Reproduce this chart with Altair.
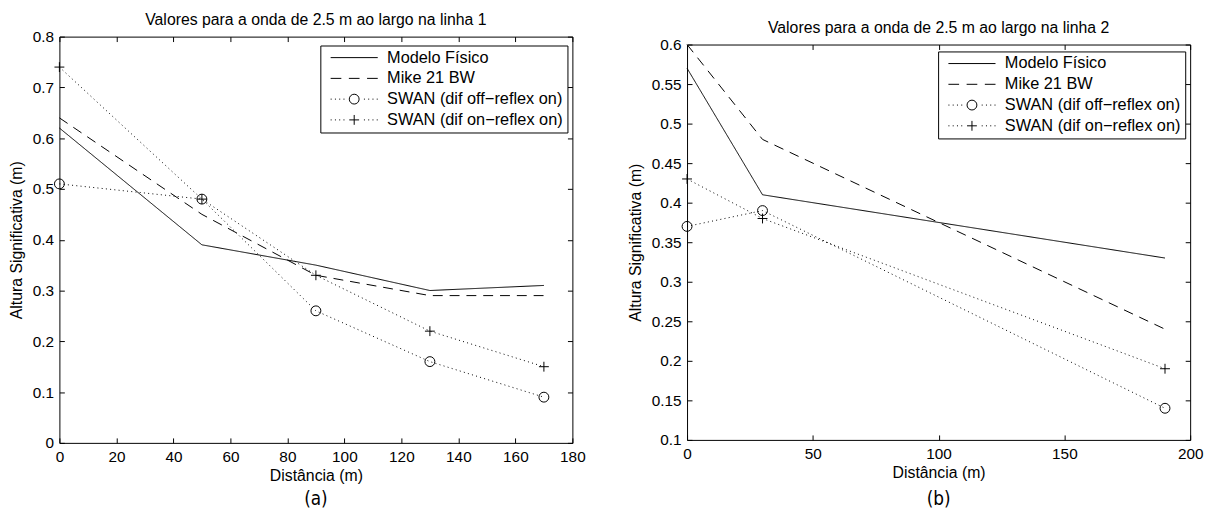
import altair as alt
import pandas as pd

SERIES = ["Modelo Físico", "Mike 21 BW",
          "SWAN (dif off\u2212reflex on)", "SWAN (dif on\u2212reflex on)"]

# ---- Painel (a): linha 1 ----
dist_a = [0, 50, 90, 130, 170]
modelo_a = [0.62, 0.39, 0.35, 0.30, 0.31]
mike_a = [0.64, 0.45, 0.33, 0.29, 0.29]
swan_off_a = [0.51, 0.48, 0.26, 0.16, 0.09]
swan_on_a = [0.74, 0.48, 0.33, 0.22, 0.15]
x_ticks_a = [0, 20, 40, 60, 80, 100, 120, 140, 160, 180]
y_ticks_a = [0, 0.1, 0.2, 0.3, 0.4, 0.5, 0.6, 0.7, 0.8]

# ---- Painel (b): linha 2 ----
dist_b = [0, 30, 190]
modelo_b = [0.57, 0.41, 0.33]
mike_b = [0.60, 0.48, 0.24]
swan_off_b = [0.37, 0.39, 0.14]
swan_on_b = [0.43, 0.38, 0.19]
x_ticks_b = [0, 50, 100, 150, 200]
y_ticks_b = [0.1, 0.15, 0.2, 0.25, 0.3, 0.35, 0.4, 0.45, 0.5, 0.55, 0.6]

FONT = "Liberation Sans, Arial, Helvetica, sans-serif"
CAP_FONT = "Liberation Sans Narrow, DejaVu Sans Condensed, sans-serif"


def long_df(dist, series_vals):
    rows = []
    for name, vals in zip(SERIES, series_vals):
        for d, v in zip(dist, vals):
            rows.append({"dist": d, "h": v, "serie": name})
    return pd.DataFrame(rows)


df_a = long_df(dist_a, [modelo_a, mike_a, swan_off_a, swan_on_a])
df_b = long_df(dist_b, [modelo_b, mike_b, swan_off_b, swan_on_b])


# legend glyphs (line sample + marker), unit = 6 px (symbolSize 144)
def dots(xs):
    return "".join(f"M{x:.2f},0L{x + 0.17:.2f},0" for x in xs)


DOT_X = [-3.97, -3.25, -2.53, -1.81, 1.64, 2.36, 3.08, 3.80]
CIRC = "M0.83,0A0.83,0.83 0 1,1 -0.83,0A0.83,0.83 0 1,1 0.83,0"
PLUS = "M-0.83,0L0.83,0M0,-0.83L0,0.83"
LEGEND_PATHS = [
    "M-3.97,0L3.97,0",
    "M-3.97,0L-2.17,0M-0.9,0L0.9,0M2.17,0L3.97,0",
    dots(DOT_X) + CIRC,
    dots(DOT_X) + PLUS,
]
DASHES = [[1, 0], [10, 7], [1, 3.3], [1, 3.3]]


def panel(df, w, h, xdom, xt, ydom, yt, title, caption, cap_y, lx, ly):
    xs = alt.Scale(domain=xdom, nice=False, zero=False)
    ys = alt.Scale(domain=ydom, nice=False, zero=False)
    ax_bottom = alt.Axis(orient="bottom", values=xt, format="d", offset=-5,
                         tickSize=5, domain=False, grid=False,
                         title="Distância (m)", labelPadding=7,
                         titlePadding=3, labelFlush=False)
    ax_left = alt.Axis(orient="left", values=yt, format=".2~f", offset=-5,
                       tickSize=5, domain=False, grid=False,
                       title="Altura Significativa (m)", labelPadding=6,
                       titlePadding=7.5, labelFlush=False)
    ax_top = alt.Axis(orient="top", values=xt, offset=-5, tickSize=5,
                      domain=False, grid=False, labels=False, title=None)
    ax_right = alt.Axis(orient="right", values=yt, offset=-5, tickSize=5,
                        domain=False, grid=False, labels=False, title=None)

    base = alt.Chart(df)
    layers = []
    for i, (name, dash) in enumerate(zip(SERIES, DASHES)):
        first = i == 0
        layers.append(
            base.transform_filter(alt.datum.serie == name).mark_line(
                color="black", strokeWidth=1, strokeDash=dash,
            ).encode(
                x=alt.X("dist:Q", scale=xs, axis=ax_bottom if first else None),
                y=alt.Y("h:Q", scale=ys, axis=ax_left if first else None),
            )
        )
    circles = base.transform_filter(alt.datum.serie == SERIES[2]).mark_point(
        shape="circle", size=100, filled=False, color="black",
        strokeWidth=1, opacity=1,
    ).encode(
        x=alt.X("dist:Q", scale=xs, axis=ax_top),
        y=alt.Y("h:Q", scale=ys, axis=ax_right),
    )
    plus = base.transform_filter(alt.datum.serie == SERIES[3]).mark_point(
        shape="M-1,0L1,0M0,-1L0,1", size=100, filled=False, color="black",
        strokeWidth=1, opacity=1,
    ).encode(
        x=alt.X("dist:Q", scale=xs, axis=None),
        y=alt.Y("h:Q", scale=ys, axis=None),
    )
    leg = base.mark_point(
        filled=False, color="black", strokeWidth=1, opacity=0,
    ).encode(
        x=alt.X("dist:Q", scale=xs, axis=None),
        y=alt.Y("h:Q", scale=ys, axis=None),
        shape=alt.Shape("serie:N",
                        scale=alt.Scale(domain=SERIES, range=LEGEND_PATHS),
                        legend=alt.Legend(
                            title=None, orient="none", legendX=lx, legendY=ly,
                            symbolSize=144, symbolStrokeWidth=1,
                            symbolStrokeColor="black", symbolOpacity=1,
                            symbolFillColor="white",
                            symbolOffset=22, labelOffset=25, padding=4,
                            rowPadding=4, labelFont=FONT, labelFontSize=16.5,
                            labelColor="black", labelLimit=400,
                            strokeColor="black", fillColor="white",
                        )),
    )
    cap = alt.Chart(pd.DataFrame({"cap": [caption]})).mark_text(
        font=CAP_FONT, fontSize=19, align="center", baseline="middle",
        color="black",
    ).encode(
        x=alt.value(w / 2), y=alt.value(cap_y), text="cap:N",
    )
    return alt.layer(*layers, circles, plus, leg, cap).resolve_axis(
        x="independent", y="independent"
    ).properties(
        width=w, height=h,
        title=alt.TitleParams(text=title, font=FONT, fontSize=16,
                              fontWeight="normal", color="black",
                              anchor="middle", offset=2),
    )


def spacer():
    return alt.Chart(pd.DataFrame({"s": [0]})).mark_point(
        size=0, opacity=0
    ).encode(
        x=alt.value(0), y=alt.value(0)
    ).properties(width=1, height=1, view=alt.ViewBackground(stroke=None))


pa = panel(df_a, 519, 411, [0, 180], x_ticks_a, [0, 0.8], y_ticks_a,
           "Valores para a onda de 2.5 m ao largo na linha 1",
           "(a)", 411 + 57, 264, 9)
pb = panel(df_b, 509, 400, [0, 200], x_ticks_b, [0.1, 0.6], y_ticks_b,
           "Valores para a onda de 2.5 m ao largo na linha 2",
           "(b)", 400 + 60, 254, 7)

left = alt.vconcat(spacer(), pa, spacing=-4).resolve_scale(
    shape="independent").resolve_legend(shape="independent")
right = alt.vconcat(spacer(), pb, spacing=4).resolve_scale(
    shape="independent").resolve_legend(shape="independent")

chart = alt.hconcat(left, right, spacing=41).resolve_scale(
    shape="independent"
).resolve_legend(
    shape="independent"
).properties(
    padding=0, background="white"
).configure_view(
    stroke="black", strokeWidth=1
).configure_axis(
    labelFont=FONT, labelFontSize=15.5, labelColor="black",
    titleFont=FONT, titleFontSize=16, titleFontWeight="normal",
    titleColor="black", tickColor="black", tickWidth=1,
)

chart.save("out.html", embed_options={"renderer": "svg", "actions": False})
